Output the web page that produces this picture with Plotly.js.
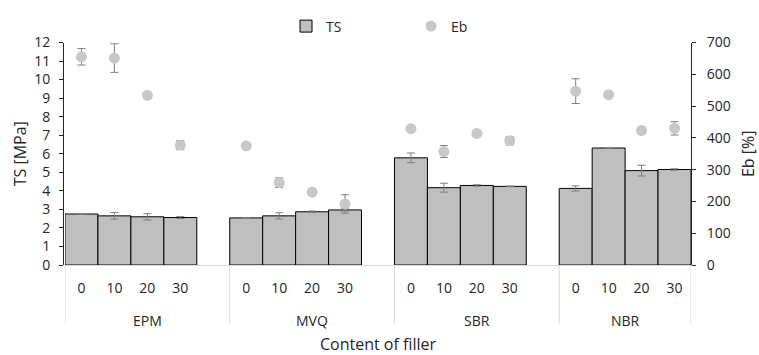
<!DOCTYPE html>
<html>
<head>
<meta charset="utf-8">
<script src="https://cdn.plot.ly/plotly-3.0.1.min.js"></script>
<style>
  html, body { margin: 0; padding: 0; background: #ffffff; }
  #chart { width: 759px; height: 355px; }
</style>
</head>
<body>
<div id="chart"></div>
<script>
// Rubber matrices and filler contents (grouped category axis)
const rubbers = ['EPM', 'MVQ', 'SBR', 'NBR'];
const fillerContent = [0, 10, 20, 30];

// Tensile strength TS [MPa], ordered rubber by rubber, then by filler content
const tsMean = [2.75, 2.65, 2.60, 2.56,
                2.54, 2.65, 2.87, 2.97,
                5.78, 4.17, 4.29, 4.24,
                4.13, 6.31, 5.09, 5.15];
const tsSd   = [0.02, 0.18, 0.17, 0.05,
                0.02, 0.17, 0.04, 0.06,
                0.26, 0.24, 0.04, 0.02,
                0.14, 0.02, 0.29, 0.04];

// Elongation at break Eb [%]
const ebMean = [655, 651, 534, 377,
                375, 259, 229, 192,
                429, 357, 414, 391,
                547, 536, 423, 430];
const ebSd   = [26, 45, 0, 14,
                0, 15, 0, 29,
                0, 19, 0, 13,
                39, 0, 10, 21];

// One empty slot separates the rubber groups on the category axis
const slotsPerGroup = fillerContent.length + 1;
const xPos = [];
const tickText = [];
rubbers.forEach((r, g) => {
  fillerContent.forEach((c, j) => {
    xPos.push(g * slotsPerGroup + j);
    tickText.push(String(c));
  });
});
const lastSlot = (rubbers.length - 1) * slotsPerGroup + fillerContent.length - 1;

const FONT = 'Open Sans, Liberation Sans, sans-serif';
const TXT = '#262626';
const AXIS = '#262626';

const tsTrace = {
  type: 'bar',
  name: 'TS',
  x: xPos,
  y: tsMean,
  width: 1,
  marker: { color: '#bfbfbf', line: { color: '#000000', width: 1 } },
  error_y: { type: 'data', array: tsSd, visible: true, color: '#7f7f7f', thickness: 1, width: 4 },
  legend: 'legend',
  hoverinfo: 'y'
};

const ebTrace = {
  type: 'scatter',
  mode: 'markers',
  name: 'Eb',
  x: xPos,
  y: ebMean,
  yaxis: 'y2',
  marker: { color: '#c8c8c8', size: 11, line: { width: 0 } },
  error_y: { type: 'data', array: ebSd, visible: true, color: '#7f7f7f', thickness: 1, width: 4 },
  legend: 'legend2',
  hoverinfo: 'y'
};

// Group boundaries and group labels of the two-level category axis
const shapes = [];
const annotations = [];
const bounds = [-0.5];
rubbers.forEach((r, g) => {
  const start = g * slotsPerGroup - 0.5;
  const end = (g === rubbers.length - 1) ? lastSlot + 0.5 : start + slotsPerGroup;
  bounds.push(end);
  annotations.push({
    x: (start + end) / 2, xref: 'x',
    y: 0, yref: 'paper', yanchor: 'middle', yshift: -55,
    text: r, showarrow: false,
    font: { family: FONT, size: 14, color: TXT }
  });
});
bounds.forEach(b => {
  shapes.push({
    type: 'line', xref: 'x', yref: 'paper',
    x0: b, x1: b, y0: 0, y1: -0.264,
    line: { color: '#d9d9d9', width: 1 }
  });
});

const layout = {
  width: 759,
  height: 355,
  margin: { l: 63, r: 68, t: 15, b: 90, pad: 0 },
  paper_bgcolor: '#ffffff',
  plot_bgcolor: '#ffffff',
  font: { family: FONT, size: 14, color: TXT },
  bargap: 0,
  showlegend: true,
  xaxis: {
    domain: [2 / 628, 1],
    range: [-0.5, lastSlot + 0.5],
    tickmode: 'array',
    tickvals: xPos,
    ticktext: tickText,
    ticks: '',
    ticklabelstandoff: 10,
    showline: true, linecolor: '#d9d9d9', linewidth: 1,
    showgrid: false, zeroline: false,
    tickfont: { family: FONT, size: 14, color: TXT },
    title: { text: 'Content of filler', font: { family: FONT, size: 16, color: TXT }, standoff: 46 },
    fixedrange: true
  },
  yaxis: {
    range: [0, 12],
    dtick: 1,
    anchor: 'free', position: 0,
    showline: true, linecolor: AXIS, linewidth: 1,
    ticks: 'outside', ticklen: 4, tickcolor: AXIS,
    ticklabelstandoff: 6,
    showgrid: false, zeroline: false,
    tickfont: { family: FONT, size: 14, color: TXT },
    title: { text: 'TS [MPa]', font: { family: FONT, size: 16, color: TXT }, standoff: 2 },
    fixedrange: true
  },
  yaxis2: {
    range: [0, 700],
    dtick: 100,
    overlaying: 'y',
    side: 'right',
    anchor: 'x',
    showline: true, linecolor: AXIS, linewidth: 1,
    ticks: 'outside', ticklen: 4, tickcolor: AXIS,
    ticklabelstandoff: 8,
    showgrid: false, zeroline: false,
    tickfont: { family: FONT, size: 14, color: TXT },
    title: { text: 'Eb [%]', font: { family: FONT, size: 16, color: TXT }, standoff: 12 },
    fixedrange: true
  },
  legend: {
    xref: 'container', yref: 'container',
    x: 286 / 759, y: 1 - 26.5 / 355,
    xanchor: 'left', yanchor: 'middle',
    orientation: 'h',
    bgcolor: 'rgba(0,0,0,0)', borderwidth: 0,
    font: { family: FONT, size: 14, color: TXT }
  },
  legend2: {
    xref: 'container', yref: 'container',
    x: 411 / 759, y: 1 - 26.5 / 355,
    xanchor: 'left', yanchor: 'middle',
    orientation: 'h',
    bgcolor: 'rgba(0,0,0,0)', borderwidth: 0,
    font: { family: FONT, size: 14, color: TXT }
  },
  shapes: shapes,
  annotations: annotations
};

Plotly.newPlot('chart', [tsTrace, ebTrace], layout, { displayModeBar: false, staticPlot: true });
</script>
</body>
</html>
